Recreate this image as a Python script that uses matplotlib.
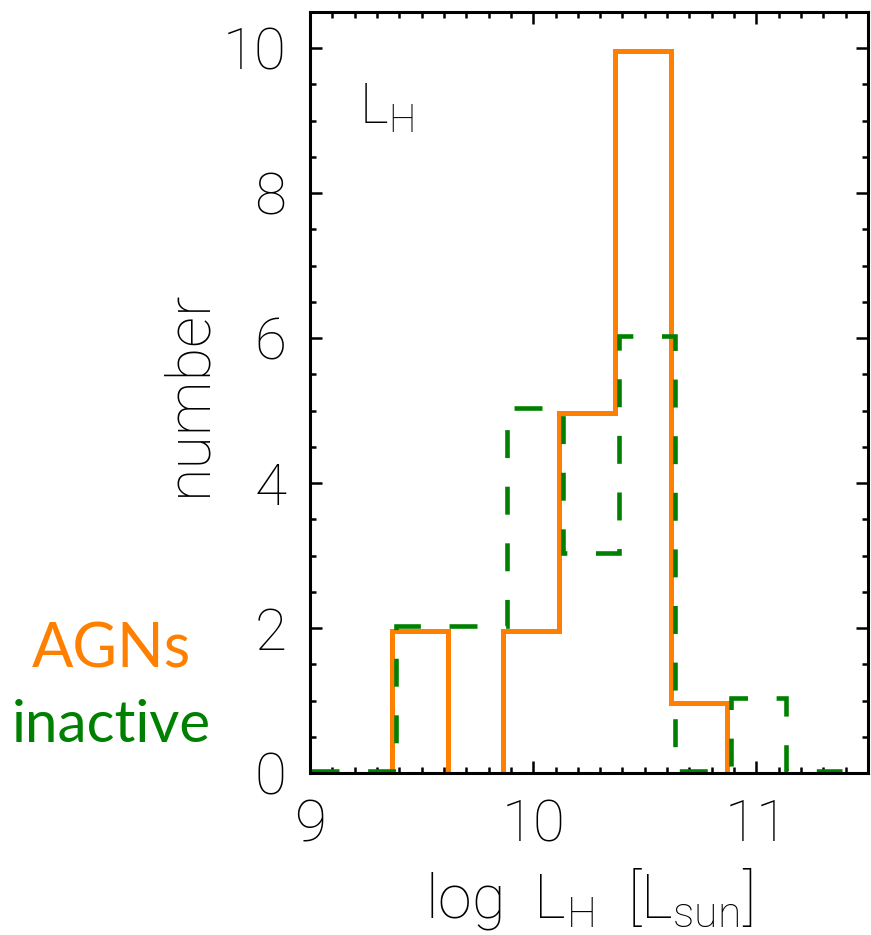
import matplotlib
matplotlib.use("Agg")
import matplotlib.pyplot as plt
from matplotlib.ticker import MultipleLocator
from matplotlib.transforms import offset_copy

plt.rcParams['font.family'] = ['Lato', 'DejaVu Sans']
plt.rcParams['mathtext.fontset'] = 'custom'
plt.rcParams['mathtext.rm'] = 'Roboto:light'

# histogram bins in log L_H (0.25 dex)
bin_edges = [8.875, 9.125, 9.375, 9.625, 9.875, 10.125,
             10.375, 10.625, 10.875, 11.125, 11.375]
agn_counts = [0, 0, 2, 0, 2, 5, 10, 1, 0, 0]
inactive_counts = [0, 0, 2, 2, 5, 3, 6, 0, 1, 0]

xticks = [9, 10, 11]
yticks = [0, 2, 4, 6, 8, 10]

orange = '#ff8000'
green = '#008000'
axis_font = dict(family=['Roboto', 'DejaVu Sans'], weight='light')

fig = plt.figure(figsize=(8.71, 9.35), dpi=100)
ax = fig.add_axes([310 / 871, 1 - 773 / 935, 558 / 871, 761 / 935])

# shift the two histograms a couple of pixels apart so both stay visible
tr_agn = offset_copy(ax.transData, fig=fig, x=-2, y=-2.5, units='dots')
tr_ina = offset_copy(ax.transData, fig=fig, x=2, y=2.5, units='dots')

ax.stairs(agn_counts, bin_edges, color=orange, lw=3.6, transform=tr_agn,
          baseline=None, zorder=2)
ax.stairs(inactive_counts, bin_edges, color=green, lw=3.3, transform=tr_ina,
          baseline=None, linestyle=(6.46, (6.1, 6.25)), zorder=2.2)

ax.set_xlim(9, 11.5)
ax.set_ylim(0, 10.5)
ax.set_xticks(xticks)
ax.set_yticks(yticks)
ax.xaxis.set_minor_locator(MultipleLocator(0.1))
ax.yaxis.set_minor_locator(MultipleLocator(0.5))

ax.tick_params(which='both', direction='in', top=True, right=True,
               width=1.8, labelsize=42)
ax.tick_params(which='major', length=8.6)
ax.tick_params(which='minor', length=4.3)
ax.tick_params(axis='y', pad=17)
ax.tick_params(axis='x', pad=18)
for lab in ax.get_xticklabels() + ax.get_yticklabels():
    lab.set_fontfamily(axis_font['family'])
    lab.set_fontweight(axis_font['weight'])
for sp in ax.spines.values():
    sp.set_linewidth(2.2)
    sp.set_zorder(3)

ax.set_xlabel(r'log  L$_\mathrm{H}$  [L$_\mathrm{sun}$]', fontsize=44,
              va='baseline', **axis_font)
ax.xaxis.set_label_coords(0.5, -0.1905)
ax.set_ylabel('number', fontsize=44, va='baseline', **axis_font)
ax.yaxis.set_label_coords(-0.188, 0.5)

ax.text(0.0878, 0.854, r'L$_\mathrm{H}$', transform=ax.transAxes,
        fontsize=40, va='baseline', ha='left', **axis_font)

fig.text(111 / 871, 1 - 667 / 935, 'AGNs', color=orange, fontsize=44,
         ha='center', va='baseline')
fig.text(111 / 871, 1 - 742 / 935, 'inactive', color=green, fontsize=42,
         ha='center', va='baseline')

fig.savefig('out.png', dpi=100)
